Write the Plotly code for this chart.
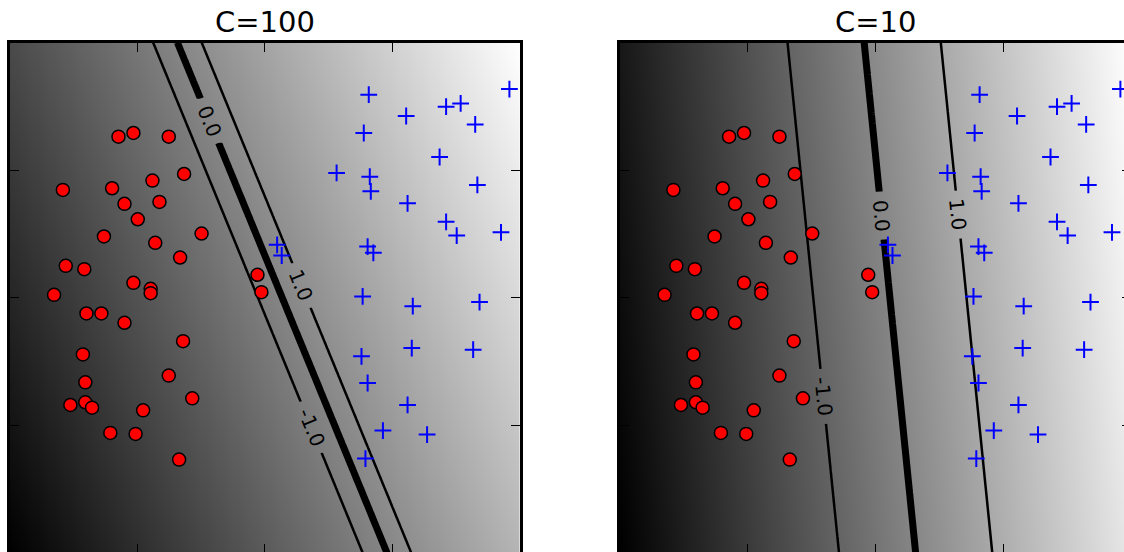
import numpy as np
import plotly.graph_objects as go

# ---------------- data ----------------
red_x = [-1.146, -1.029, -0.752, -0.632, -1.582, -1.196, -0.880, -1.099, -0.825, -0.995,
         -1.260, -0.858, -0.495, -0.663, -1.559, -1.414, -1.029, -0.057, -0.894, -0.894,
         -1.651, -0.026, -1.397, -1.280, -1.099, -0.640, -1.425, -0.752, -1.406, -0.568,
         -1.523, -1.406, -1.353, -0.953, -1.210, -1.012, -0.671]
red_y = [1.262, 1.291, 1.262, 0.970, 0.845, 0.858, 0.918, 0.736, 0.751, 0.615,
         0.480, 0.430, 0.503, 0.315, 0.250, 0.224, 0.117, 0.180, 0.070, 0.036,
         0.023, 0.044, -0.123, -0.123, -0.196, -0.340, -0.444, -0.610, -0.663, -0.788,
         -0.840, -0.819, -0.861, -0.882, -1.059, -1.067, -1.268]

blue_x = [0.815, 1.108, 1.421, 1.535, 1.649, 1.917, 0.776, 1.370, 0.563, 0.823,
          0.831, 1.666, 1.119, 1.421, 1.504, 1.851, 0.097, 0.133, 0.806, 0.851,
          0.767, 1.160, 1.683, 0.758, 1.152, 1.633, 0.806, 1.119, 0.926, 1.272, 0.789]
blue_y = [1.591, 1.424, 1.497, 1.523, 1.358, 1.635, 1.291, 1.103, 0.978, 0.949,
          0.834, 0.884, 0.740, 0.595, 0.487, 0.513, 0.415, 0.331, 0.401, 0.352,
          0.010, -0.066, -0.034, -0.459, -0.394, -0.407, -0.668, -0.840, -1.041, -1.072, -1.260]

titles = ["C=100", "C=10"]
# linear decision function f(x, y) = w0*x + w1*y + b for each panel
weights = [[5.26, 2.16], [1.667, 0.168]]
biases = [-0.72, -0.188]
contour_levels = [-1.0, 0.0, 1.0]
# y position (data units) at which each contour level is labelled, per panel
label_y = [[-1.015, 1.387, 0.096], [-0.772, 0.644, 0.652]]
tick_vals = [-1, 0, 1]
axis_range = [-2, 2]

# ---------------- styling / geometry (page pixels) ----------------
W, H = 1134, 556          # figure slightly larger than the 1124x552 window (cropped like the reference)
panels_x = [(9.5, 520.0), (620.0, 1131.0)]
TOP, BOTTOM = 42.5, 553.0
LABEL_SIZE = 20
LABEL_PAD = 8
CHAR_EM = {"0": 0.636, "1": 0.636, ".": 0.318, "-": 0.361}

grid = np.linspace(axis_range[0], axis_range[1], 241)
GX, GY = np.meshgrid(grid, grid)
xs_line = np.linspace(axis_range[0], axis_range[1], 121)

fig = go.Figure()
annotations = []

for i in range(2):
    xa = "x" if i == 0 else "x2"
    ya = "y" if i == 0 else "y2"
    w0, w1 = weights[i]
    b = biases[i]
    Z = w0 * GX + w1 * GY + b
    fig.add_trace(go.Heatmap(
        x=grid, y=grid, z=Z, colorscale=[[0, "black"], [1, "white"]],
        zmin=float(Z.min()), zmax=float(Z.max()), showscale=False, zsmooth="best",
        hoverinfo="skip", xaxis=xa, yaxis=ya))

    x0, x1 = panels_x[i]
    sx = (x1 - x0) / (axis_range[1] - axis_range[0])
    sy = (BOTTOM - TOP) / (axis_range[1] - axis_range[0])
    angle = float(np.degrees(np.arctan2(w0 * sy, w1 * sx)))

    for lev, ly in zip(contour_levels, label_y[i]):
        text = "%.1f" % lev
        text_px = sum(CHAR_EM[c] for c in text) * LABEL_SIZE
        half_gap = (text_px / 2 + LABEL_PAD) * np.sin(np.radians(angle)) / sy
        width = 7 if lev == 0 else 2.5
        # contour line drawn in two pieces, leaving room for the inline label
        for ylo, yhi in [(axis_range[0], ly - half_gap), (ly + half_gap, axis_range[1])]:
            ys = np.linspace(ylo, yhi, 80)
            PX, PY = np.meshgrid(xs_line, ys)
            Zp = w0 * PX + w1 * PY + b
            fig.add_trace(go.Contour(
                x=xs_line, y=ys, z=Zp, showscale=False, hoverinfo="skip",
                contours=dict(coloring="none", start=lev, end=lev, size=1,
                              showlabels=False),
                line=dict(color="black", width=width), xaxis=xa, yaxis=ya))
        lx = (lev - b - w1 * ly) / w0
        annotations.append(dict(
            text=text, x=lx, y=ly, xref=xa, yref=ya, showarrow=False,
            textangle=angle, xanchor="center", yanchor="middle", borderpad=0,
            font=dict(size=LABEL_SIZE, color="black", family="DejaVu Sans")))

    fig.add_trace(go.Scatter(
        x=red_x, y=red_y, mode="markers", xaxis=xa, yaxis=ya, hoverinfo="skip",
        marker=dict(symbol="circle", size=13, color="#ff0000",
                    line=dict(color="black", width=1.5))))
    fig.add_trace(go.Scatter(
        x=blue_x, y=blue_y, mode="markers", xaxis=xa, yaxis=ya, hoverinfo="skip",
        marker=dict(symbol="cross-thin", size=12, color="#0000ff",
                    line=dict(color="#0000ff", width=2))))

    common = dict(range=axis_range, showgrid=False, zeroline=False,
                  showline=True, linewidth=3, linecolor="black", mirror="ticks",
                  ticks="inside", tickvals=tick_vals, ticklen=9, tickwidth=1.3,
                  tickcolor="black", showticklabels=False)
    axis_x = dict(domain=[x0 / W, x1 / W], anchor=ya, **common)
    axis_y = dict(domain=[(H - BOTTOM) / H, 1 - TOP / H], anchor=xa, **common)
    if i == 0:
        fig.update_layout(xaxis=axis_x, yaxis=axis_y)
    else:
        fig.update_layout(xaxis2=axis_x, yaxis2=axis_y)

    annotations.append(dict(text=titles[i], xref="paper", yref="paper",
                            x=(x0 + x1) / 2 / W, y=1 - 40 / H,
                            xanchor="center", yanchor="bottom", showarrow=False,
                            borderpad=0,
                            font=dict(family="DejaVu Sans", size=29, color="black")))

fig.update_layout(width=W, height=H, margin=dict(l=0, r=0, t=0, b=0),
                  paper_bgcolor="white", plot_bgcolor="white", showlegend=False,
                  annotations=annotations)

fig.write_html("out.html",
               config={"displayModeBar": False},
               post_script="document.body.style.margin='0px';"
                           "document.body.style.overflow='hidden';")
